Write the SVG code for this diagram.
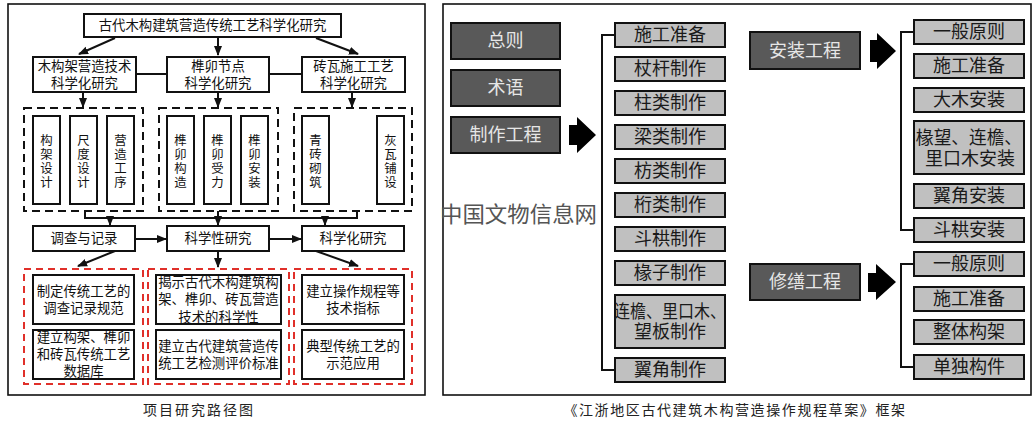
<svg xmlns="http://www.w3.org/2000/svg" width="1034" height="431" viewBox="0 0 1034 431">
<defs>
<style>
text{font-family:"Liberation Sans","Noto Sans CJK SC",sans-serif;fill:#111;}
.frame{fill:none;stroke:#111;stroke-width:1.6;}
.box{fill:#fff;stroke:#111;stroke-width:2;}
.dash{fill:none;stroke:#111;stroke-width:2;stroke-dasharray:8 5;}
.rdash{fill:none;stroke:#e0302a;stroke-width:2;stroke-dasharray:7 5;}
.ln{fill:none;stroke:#111;stroke-width:2;}
.t13{font-size:13.4px;text-anchor:middle;dominant-baseline:central;}
.tv{font-size:12.4px;writing-mode:vertical-rl;text-orientation:upright;letter-spacing:1.6px;font-family:"Noto Sans CJK SC",sans-serif;}
.dk{fill:#595959;stroke:#111;stroke-width:2;}
.gy{fill:#c0c0c0;stroke:#111;stroke-width:2;}
.t18{font-size:18px;text-anchor:middle;dominant-baseline:central;fill:#1a1a1a;}
.tl{font-size:18px;text-anchor:middle;dominant-baseline:central;fill:#e6e6e6;}
.blk{fill:#000;}
.cap{font-size:14px;text-anchor:middle;dominant-baseline:central;letter-spacing:2px;fill:#222;}
</style>
<marker id="ah" viewBox="0 0 10 10" refX="9" refY="5" markerWidth="5" markerHeight="5" orient="auto" markerUnits="strokeWidth">
<path d="M0,1 L10,5 L0,9 z" fill="#111"/>
</marker>
</defs>
<rect width="1034" height="431" fill="#fff"/>

<!-- LEFT PANEL -->
<rect class="frame" x="8" y="4" width="417" height="391"/>

<g id="title"><rect class="box" x="84" y="14" width="257" height="23"/><text class="t13" x="212.5" y="25.5">古代木构建筑营造传统工艺科学化研究</text></g>

<g id="l2a"><rect class="box" x="33" y="57" width="103" height="35"/><text class="t13" x="84.5" y="66.5">木构架营造技术</text><text class="t13" x="84.5" y="83">科学化研究</text></g>
<g id="l2b"><rect class="box" x="167" y="57" width="102" height="35"/><text class="t13" x="218" y="66.5">榫卯节点</text><text class="t13" x="218" y="83">科学化研究</text></g>
<g id="l2c"><rect class="box" x="302" y="57" width="103" height="35"/><text class="t13" x="353.5" y="66.5">砖瓦施工工艺</text><text class="t13" x="353.5" y="83">科学化研究</text></g>

<g id="grp1"><rect class="dash" x="24" y="108" width="119" height="103"/>
<rect class="box" x="33" y="116" width="27" height="88"/><text class="tv" x="46.5" y="134">构架设计</text>
<rect class="box" x="70" y="116" width="27" height="88"/><text class="tv" x="83.5" y="134">尺度设计</text>
<rect class="box" x="107" y="116" width="27" height="88"/><text class="tv" x="120.5" y="134">营造工序</text>
</g>
<g id="grp2"><rect class="dash" x="159" y="108" width="119" height="103"/>
<rect class="box" x="167" y="116" width="27" height="88"/><text class="tv" x="180.5" y="134">榫卯构造</text>
<rect class="box" x="204" y="116" width="27" height="88"/><text class="tv" x="217.5" y="134">榫卯受力</text>
<rect class="box" x="241" y="116" width="27" height="88"/><text class="tv" x="254.5" y="134">榫卯安装</text>
</g>
<g id="grp3"><rect class="dash" x="294" y="108" width="118" height="103"/>
<rect class="box" x="302" y="116" width="27" height="88"/><text class="tv" x="315.5" y="134">青砖砌筑</text>
<rect class="box" x="377" y="116" width="27" height="88"/><text class="tv" x="390.5" y="134">灰瓦铺设</text>
</g>

<g id="l3a"><rect class="box" x="33" y="226" width="102" height="25"/><text class="t13" x="84" y="238.5">调查与记录</text></g>
<g id="l3b"><rect class="box" x="167" y="226" width="102" height="25"/><text class="t13" x="218" y="238.5">科学性研究</text></g>
<g id="l3c"><rect class="box" x="302" y="226" width="102" height="25"/><text class="t13" x="353" y="238.5">科学化研究</text></g>

<g id="out1"><rect class="rdash" x="24" y="269" width="119" height="115"/>
<rect class="box" x="33" y="275" width="101" height="49"/><text class="t13" x="83.5" y="291">制定传统工艺的</text><text class="t13" x="83.5" y="308.5">调查记录规范</text>
<rect class="box" x="33" y="330" width="101" height="49"/><text class="t13" x="83.5" y="337.5">建立构架、榫卯</text><text class="t13" x="83.5" y="354.5">和砖瓦传统工艺</text><text class="t13" x="83.5" y="371.5">数据库</text>
</g>
<g id="out2"><rect class="rdash" x="148" y="269" width="141" height="115"/>
<rect class="box" x="156" y="275" width="125" height="49"/><text class="t13" x="218.5" y="282">揭示古代木构建筑构</text><text class="t13" x="218.5" y="299.5">架、榫卯、砖瓦营造</text><text class="t13" x="218.5" y="317">技术的科学性</text>
<rect class="box" x="156" y="330" width="125" height="49"/><text class="t13" x="218.5" y="346">建立古代建筑营造传</text><text class="t13" x="218.5" y="363.5">统工艺检测评价标准</text>
</g>
<g id="out3"><rect class="rdash" x="294" y="269" width="118" height="115"/>
<rect class="box" x="302" y="275" width="102" height="49"/><text class="t13" x="353" y="291">建立操作规程等</text><text class="t13" x="353" y="308.5">技术指标</text>
<rect class="box" x="302" y="330" width="102" height="49"/><text class="t13" x="353" y="346">典型传统工艺的</text><text class="t13" x="353" y="363.5">示范应用</text>
</g>

<g id="connectors-left">
<line class="ln" x1="115" y1="38" x2="79" y2="54" marker-end="url(#ah)"/>
<line class="ln" x1="218" y1="38" x2="218" y2="55" marker-end="url(#ah)"/>
<line class="ln" x1="316" y1="38" x2="358" y2="54" marker-end="url(#ah)"/>
<line class="ln" x1="136" y1="74" x2="167" y2="74"/>
<line class="ln" x1="269" y1="74" x2="302" y2="74"/>
<line class="ln" x1="83" y1="92" x2="83" y2="107" marker-end="url(#ah)"/>
<line class="ln" x1="218" y1="92" x2="218" y2="107" marker-end="url(#ah)"/>
<line class="ln" x1="352" y1="92" x2="352" y2="107" marker-end="url(#ah)"/>
<polyline class="ln" points="85,211 85,218 357,218 357,211"/>
<line class="ln" x1="218" y1="211" x2="218" y2="225" marker-end="url(#ah)"/>
<line class="ln" x1="110" y1="218" x2="110" y2="225" marker-end="url(#ah)"/>
<line class="ln" x1="325" y1="218" x2="325" y2="225" marker-end="url(#ah)"/>
<line class="ln" x1="135" y1="239" x2="166" y2="239" marker-end="url(#ah)"/>
<line class="ln" x1="269" y1="239" x2="301" y2="239" marker-end="url(#ah)"/>
<line class="ln" x1="115" y1="251" x2="78" y2="266" marker-end="url(#ah)"/>
<line class="ln" x1="218" y1="251" x2="218" y2="267" marker-end="url(#ah)"/>
<line class="ln" x1="316" y1="251" x2="358" y2="266" marker-end="url(#ah)"/>
</g>

<text class="cap" x="199" y="410">项目研究路径图</text>

<!-- RIGHT PANEL -->
<rect class="frame" x="443" y="4" width="588" height="391"/>

<text x="440" y="214" style="font-size:22px;fill:#555;dominant-baseline:central;" textLength="157" lengthAdjust="spacingAndGlyphs">中国文物信息网</text>

<g id="zongze"><rect class="dk" x="451" y="23" width="109" height="36"/><text class="tl" x="505.5" y="41">总则</text></g>
<g id="shuyu"><rect class="dk" x="451" y="70" width="109" height="36"/><text class="tl" x="505.5" y="88">术语</text></g>
<g id="zhizuo"><rect class="dk" x="451" y="117" width="109" height="36"/><text class="tl" x="505.5" y="135">制作工程</text></g>
<g id="anzhuang"><rect class="dk" x="750" y="32" width="110" height="37"/><text class="tl" x="805" y="50.5">安装工程</text></g>
<g id="xiushan"><rect class="dk" x="750" y="264" width="110" height="36"/><text class="tl" x="805" y="282">修缮工程</text></g>

<g id="zz-items">
<rect class="gy" x="615" y="23" width="110" height="24"/><text class="t18" x="670" y="35">施工准备</text>
<rect class="gy" x="615" y="57" width="110" height="24"/><text class="t18" x="670" y="69">杖杆制作</text>
<rect class="gy" x="615" y="91" width="110" height="24"/><text class="t18" x="670" y="103">柱类制作</text>
<rect class="gy" x="615" y="125" width="110" height="24"/><text class="t18" x="670" y="137">梁类制作</text>
<rect class="gy" x="615" y="159" width="110" height="24"/><text class="t18" x="670" y="171">枋类制作</text>
<rect class="gy" x="615" y="193" width="110" height="24"/><text class="t18" x="670" y="205">桁类制作</text>
<rect class="gy" x="615" y="227" width="110" height="24"/><text class="t18" x="670" y="239">斗栱制作</text>
<rect class="gy" x="615" y="261" width="110" height="24"/><text class="t18" x="670" y="273">椽子制作</text>
<rect class="gy" x="615" y="295" width="110" height="53"/><text class="t18" x="670" y="312" textLength="112" lengthAdjust="spacingAndGlyphs">连檐、里口木、</text><text class="t18" x="670" y="332">望板制作</text>
<rect class="gy" x="615" y="358" width="110" height="24"/><text class="t18" x="670" y="370">翼角制作</text>
</g>

<g id="az-items">
<rect class="gy" x="914" y="20" width="110" height="24"/><text class="t18" x="969" y="32">一般原则</text>
<rect class="gy" x="914" y="54" width="110" height="24"/><text class="t18" x="969" y="66">施工准备</text>
<rect class="gy" x="914" y="88" width="110" height="24"/><text class="t18" x="969" y="100">大木安装</text>
<rect class="gy" x="914" y="121" width="110" height="53"/><text class="t18" x="969" y="138" textLength="106" lengthAdjust="spacingAndGlyphs">椽望、连檐、</text><text class="t18" x="970" y="159">里口木安装</text>
<rect class="gy" x="914" y="184" width="110" height="24"/><text class="t18" x="969" y="196">翼角安装</text>
<rect class="gy" x="914" y="218" width="110" height="24"/><text class="t18" x="969" y="230">斗栱安装</text>
</g>

<g id="xs-items">
<rect class="gy" x="914" y="252" width="110" height="24"/><text class="t18" x="969" y="264">一般原则</text>
<rect class="gy" x="914" y="287" width="110" height="24"/><text class="t18" x="969" y="299">施工准备</text>
<rect class="gy" x="914" y="320" width="110" height="24"/><text class="t18" x="969" y="332">整体构架</text>
<rect class="gy" x="914" y="355" width="110" height="24"/><text class="t18" x="969" y="367">单独构件</text>
</g>

<g id="connectors-right">
<path class="blk" d="M569,125 L577,125 L577,117 L596,135 L577,153 L577,145 L569,145 z"/>
<path class="blk" d="M870,40 L877,40 L877,33 L896,51 L877,69 L877,62 L870,62 z"/>
<path class="blk" d="M868,273 L876,273 L876,264 L896,282 L876,300 L876,292 L868,292 z"/>
<polyline class="ln" points="615,35 602,35 602,370 615,370"/>
<polyline class="ln" points="914,32 901,32 901,230 914,230"/>
<polyline class="ln" points="914,264 901,264 901,367 914,367"/>
</g>

<text class="cap" x="735" y="410" style="letter-spacing:1.6px">《江浙地区古代建筑木构营造操作规程草案》框架</text>
</svg>
